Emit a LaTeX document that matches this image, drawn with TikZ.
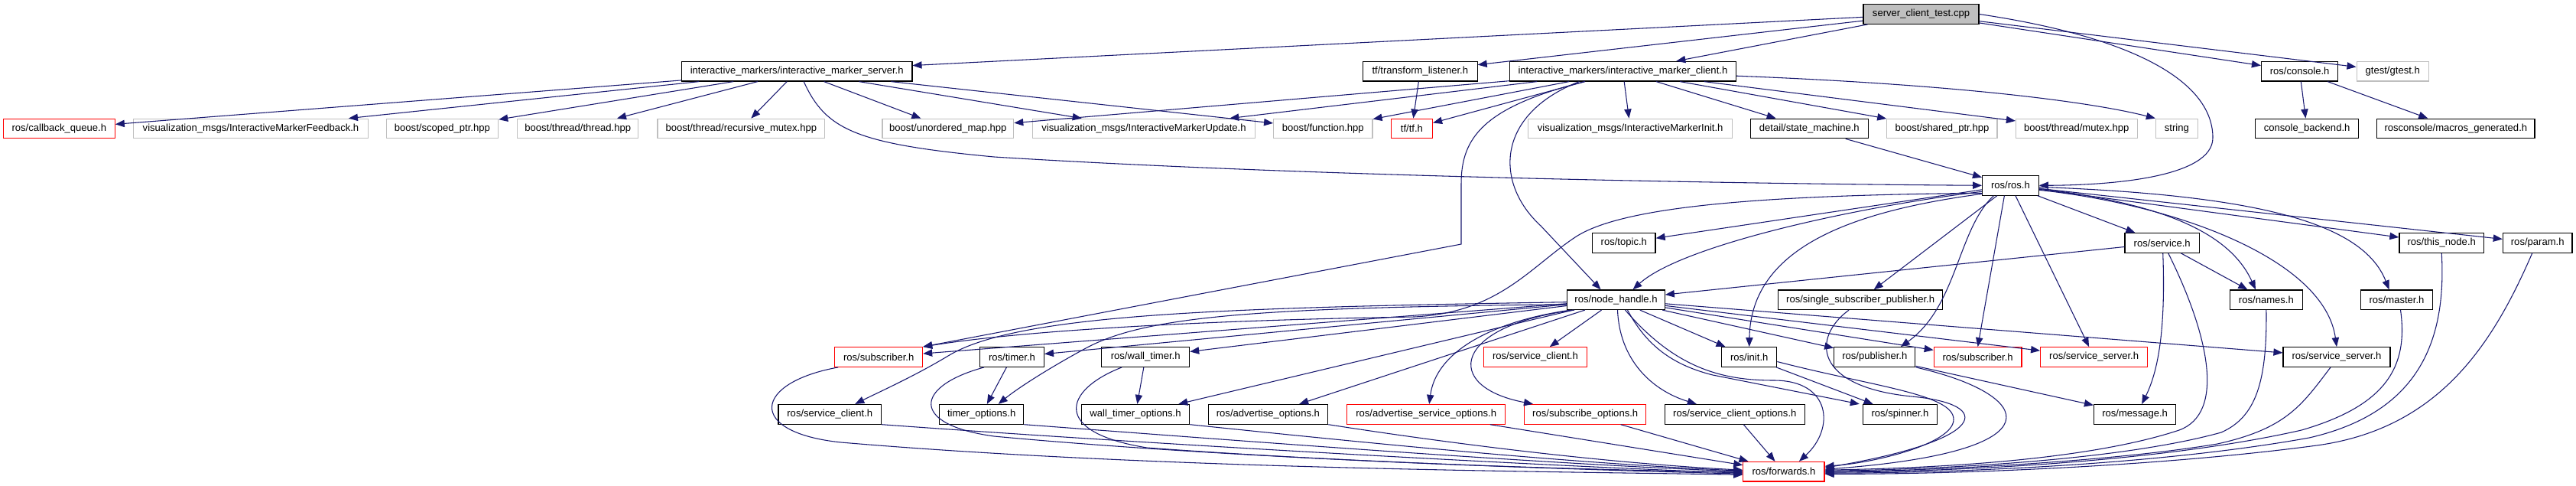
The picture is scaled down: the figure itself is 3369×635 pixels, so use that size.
\documentclass[tikz,border=0pt]{standalone}
\usepackage{fontspec}
\setmainfont{Liberation Sans}
\usetikzlibrary{arrows.meta,calc}
\definecolor{edgeblue}{HTML}{191970}
\definecolor{boxgray}{HTML}{BFBFBF}
\tikzset{
  box/.style={rectangle, draw, line width=0.9pt, minimum height=19.2pt, inner sep=0pt,
    font=\fontsize{9.8pt}{11pt}\selectfont, text=black},
  nb/.style={box, draw=black},
  ng/.style={box, draw=boxgray},
  nr/.style={box, draw=red},
  nroot/.style={box, draw=black, fill=boxgray},
  dep/.style={draw=edgeblue, line width=0.8pt, -{Triangle[length=9pt,width=7pt]}}
}
\begin{document}
\begin{tikzpicture}[x=0.75pt,y=-0.75pt]
\fill[white] (0,0) rectangle (3369,635);
\useasboundingbox (0,0) rectangle (3369,635);
% row 0
\node[nroot, minimum width=113.25pt] (root) at (2512.5,18.5) {server\_client\_test.cpp};
% row 1
\node[nb, minimum width=226.05pt] (srv) at (1042.2,93.2) {interactive\_markers/interactive\_marker\_server.h};
\node[nb, minimum width=112.2pt] (tfl) at (1857.3,93.2) {tf/transform\_listener.h};
\node[nb, minimum width=222pt] (cli) at (2122.4,93.2) {interactive\_markers/interactive\_marker\_client.h};
\node[nb, minimum width=75.15pt] (con) at (3007.6,93.2) {ros/console.h};
\node[ng, minimum width=70.7pt] (gte) at (3129.2,93.2) {gtest/gtest.h};
% row 2
\node[nr, minimum width=109.4pt] (cbq) at (77.3,168) {ros/callback\_queue.h};
\node[ng, minimum width=230.1pt] (fbk) at (328,168) {visualization\_msgs/InteractiveMarkerFeedback.h};
\node[ng, minimum width=109.8pt] (scp) at (578.4,168) {boost/scoped\_ptr.hpp};
\node[ng, minimum width=118.7pt] (thr) at (755.7,168) {boost/thread/thread.hpp};
\node[ng, minimum width=163.9pt] (rmx) at (969.3,168) {boost/thread/recursive\_mutex.hpp};
\node[ng, minimum width=128.85pt] (umap) at (1239.8,168) {boost/unordered\_map.hpp};
\node[ng, minimum width=217.9pt] (upd) at (1496,168) {visualization\_msgs/InteractiveMarkerUpdate.h};
\node[ng, minimum width=97pt] (fun) at (1730.3,168) {boost/function.hpp};
\node[nr, minimum width=40.65pt] (tf) at (1846.4,168) {tf/tf.h};
\node[ng, minimum width=200pt] (ini) at (2132.2,168) {visualization\_msgs/InteractiveMarkerInit.h};
\node[nb, minimum width=115.5pt] (stm) at (2366.3,168) {detail/state\_machine.h};
\node[ng, minimum width=108.2pt] (shp) at (2539.9,168) {boost/shared\_ptr.hpp};
\node[ng, minimum width=119pt] (mtx) at (2715.8,168) {boost/thread/mutex.hpp};
\node[ng, minimum width=41pt] (str) at (2846.8,168) {string};
\node[nb, minimum width=101.55pt] (cbk) at (3017.1,168) {console\_backend.h};
\node[nb, minimum width=154.7pt] (mac) at (3211.8,168) {rosconsole/macros\_generated.h};
% row 3
\node[nb, minimum width=55.2pt] (ros) at (2629.4,242.3) {ros/ros.h};
% row 4
\node[nb, minimum width=61.9pt] (top) at (2123.8,317.4) {ros/topic.h};
\node[nb, minimum width=73pt] (svc) at (2827.7,317.4) {ros/service.h};
\node[nb, minimum width=82.9pt] (thn) at (3193.2,317.4) {ros/this\_node.h};
\node[nb, minimum width=68pt] (par) at (3318.7,317.4) {ros/param.h};
% row 5
\node[nb, minimum width=95.6pt] (nh) at (2113.5,391.7) {ros/node\_handle.h};
\node[nb, minimum width=161.1pt] (ssp) at (2433.1,391.7) {ros/single\_subscriber\_publisher.h};
\node[nb, minimum width=70.95pt] (nam) at (2963.9,391.7) {ros/names.h};
\node[nb, minimum width=70.95pt] (mas) at (3134.5,391.7) {ros/master.h};
% row 6
\node[nr, minimum width=86.1pt] (subL) at (1149.2,466.5) {ros/subscriber.h};
\node[nb, minimum width=62.8pt] (tim) at (1323.5,466.5) {ros/timer.h};
\node[nb, minimum width=86.1pt] (wtim) at (1498.2,466.5) {ros/wall\_timer.h};
\node[nr, minimum width=101pt] (scR) at (2007.9,466.5) {ros/service\_client.h};
\node[nb, minimum width=54pt] (init) at (2287.7,466.5) {ros/init.h};
\node[nb, minimum width=79.6pt] (pub) at (2451.8,466.5) {ros/publisher.h};
\node[nr, minimum width=86pt] (subR) at (2586.6,466.5) {ros/subscriber.h};
\node[nr, minimum width=104.9pt] (ssR) at (2738.6,466.5) {ros/service\_server.h};
\node[nb, minimum width=105pt] (ssB) at (3056,466.5) {ros/service\_server.h};
% row 7
\node[nb, minimum width=101pt] (scB) at (1085.3,541.3) {ros/service\_client.h};
\node[nb, minimum width=82.65pt] (tmo) at (1283.7,541.3) {timer\_options.h};
\node[nb, minimum width=106pt] (wto) at (1485,541.3) {wall\_timer\_options.h};
\node[nb, minimum width=117.45pt] (ado) at (1658.4,541.3) {ros/advertise\_options.h};
\node[nr, minimum width=155.2pt] (aso) at (1865.2,541.3) {ros/advertise\_service\_options.h};
\node[nr, minimum width=119.4pt] (sbo) at (2073.2,541.3) {ros/subscribe\_options.h};
\node[nb, minimum width=137.4pt] (sco) at (2268.8,541.3) {ros/service\_client\_options.h};
\node[nb, minimum width=72.75pt] (spn) at (2484.9,541.3) {ros/spinner.h};
\node[nb, minimum width=80.4pt] (msg) at (2792.1,541.3) {ros/message.h};
% row 8
\node[nr, minimum width=79.6pt] (fwd) at (2332.9,616.2) {ros/forwards.h};

% ---- edges from root
\draw[dep] (root) -- (srv);
\draw[dep] (root) -- (tfl);
\draw[dep] (root) -- (cli);
\draw[dep] (root.east) .. controls (2800,50) and (2894,110) .. (2894,180) .. controls (2894,232) and (2760,242) .. (ros.east);
\draw[dep] (root) -- (con);
\draw[dep] (root) -- (gte);
% ---- server
\draw[dep] (srv) -- (cbq);
\draw[dep] (srv) -- (fbk);
\draw[dep] (srv) -- (scp);
\draw[dep] (srv) -- (thr);
\draw[dep] (srv) -- (rmx);
\draw[dep] (srv) -- (umap);
\draw[dep] (srv) -- (upd);
\draw[dep] (srv) -- (fun);
\draw[dep] ($(srv.south)+(9,0)$) .. controls (1080,170) and (1120,188) .. (1300,205) .. controls (1700,230) and (2250,240) .. (ros.west);
% ---- transform listener
\draw[dep] (tfl) -- (tf);
% ---- client
\draw[dep] (cli) -- (umap);
\draw[dep] (cli) -- (upd);
\draw[dep] (cli) -- (fun);
\draw[dep] (cli) -- (tf);
\draw[dep] (cli) -- (ini);
\draw[dep] (cli) -- (stm);
\draw[dep] (cli) -- (shp);
\draw[dep] (cli) -- (mtx);
\draw[dep] ($(cli.east)+(0,6)$) .. controls (2550,110) and (2730,132) .. (str.north west);
\draw[dep] ($(cli.south)+(-57,0)$) .. controls (1955,150) and (1955,240) .. (2015,295) -- ($(nh.north)+(-20,0)$);
\draw[dep] ($(cli.south)+(-50,0)$) .. controls (1940,140) and (1911,180) .. (1911,240) -- (1911,319) -- (subL.north east);
% ---- state machine, console
\draw[dep] (stm) -- (ros);
\draw[dep] (con) -- (cbk);
\draw[dep] (con) -- (mac);
% ---- ros.h
\draw[dep] (ros) -- (top);
\draw[dep] ($(ros.west)+(0,8)$) .. controls (2430,270) and (2200,320) .. ($(nh.north)+(22,0)$);
\draw[dep] ($(ros.west)+(0,11)$) .. controls (2430,275) and (2290,320) .. (init.north);
\draw[dep] (ros) -- (ssp);
\draw[dep] ($(ros.south)+(-22,0)$) .. controls (2560,300) and (2560,400) .. ($(pub.north)+(34,0)$);
\draw[dep] ($(ros.south)+(-8,0)$) -- (subR.north);
\draw[dep] (ros) -- (ssR);
\draw[dep] (ros) -- (svc);
\draw[dep] ($(ros.east)+(0,4)$) .. controls (2790,262) and (2910,290) .. ($(nam.north)+(-14,0)$);
\draw[dep] ($(ros.east)+(0,6)$) .. controls (2850,268) and (3040,340) .. (ssB.north);
\draw[dep] ($(ros.east)+(0,2)$) .. controls (2950,255) and (3090,290) .. ($(mas.north)+(-10,0)$);
\draw[dep] (ros) -- (thn);
\draw[dep] (ros) -- (par);
\draw[dep] ($(ros.west)+(0,10)$) .. controls (2300,255) and (2120,270) .. (2060,310) .. controls (2000,350) and (1960,408) .. (1850,414) .. controls (1600,418) and (1350,430) .. (subL.north east);
% ---- node_handle
\draw[dep] (nh) -- (subL);
\draw[dep] (nh) -- (tim);
\draw[dep] (nh) -- (wtim);
\draw[dep] ($(nh.west)+(0,3)$) .. controls (1600,402) and (1330,410) .. (1240,465) .. controls (1195,492) and (1150,512) .. ($(scB.north)+(33,0)$);
\draw[dep] ($(nh.west)+(0,6)$) .. controls (1650,402) and (1500,412) .. (1420,455) .. controls (1370,482) and (1330,508) .. ($(tmo.north)+(22,0)$);
\draw[dep] (nh) -- (wto);
\draw[dep] (nh) -- (ado);
\draw[dep] ($(nh.south west)+(5,0)$) .. controls (1950,420) and (1878,460) .. ($(aso.north)+(4,0)$);
\draw[dep] ($(nh.south west)+(10,0)$) .. controls (1900,425) and (1885,505) .. ($(sbo.north west)+(12,0)$);
\draw[dep] (nh) -- (scR);
\draw[dep] ($(nh.south)+(2,0)$) .. controls (2118,470) and (2160,510) .. ($(sco.north)+(-50,0)$);
\draw[dep] ($(nh.south)+(12,0)$) .. controls (2190,480) and (2250,497) .. (2320,497) .. controls (2395,497) and (2400,560) .. ($(fwd.north)+(20,0)$);
\draw[dep] ($(nh.south)+(15,0)$) .. controls (2150,445) and (2180,475) .. (2240,490) -- ($(spn.north west)+(-4,0)$);
\draw[dep] (nh) -- (init);
\draw[dep] (nh) -- (pub);
\draw[dep] (nh) -- (subR);
\draw[dep] (nh) -- (ssR);
\draw[dep] (nh) -- (ssB);
% ---- service.h
\draw[dep] (svc) -- (nh);
\draw[dep] (svc) -- (nam);
\draw[dep] ($(svc.south)+(1,0)$) .. controls (2832,420) and (2825,480) .. ($(msg.north)+(9,0)$);
\draw[dep] ($(svc.south)+(8,0)$) .. controls (2890,440) and (2910,540) .. (2850,562) .. controls (2720,605) and (2500,612) .. ($(fwd.east)+(0,-2)$);
% ---- others to forwards
\draw[dep] (nam.south) .. controls (2965,500) and (2950,545) .. (2905,565) .. controls (2760,605) and (2500,614) .. ($(fwd.east)+(0,-1)$);
\draw[dep] ($(ssB.south)+(-8,0)$) .. controls (3010,530) and (2990,560) .. (2900,580) .. controls (2750,605) and (2500,616) .. (fwd.east);
\draw[dep] ($(mas.south)+(5,0)$) .. controls (3150,480) and (3120,530) .. (3010,562) .. controls (2820,605) and (2550,616) .. ($(fwd.east)+(0,1)$);
\draw[dep] (thn.south) .. controls (3200,450) and (3160,540) .. (3020,572) .. controls (2820,608) and (2550,618) .. ($(fwd.east)+(0,2)$);
\draw[dep] ($(par.south)+(-7,0)$) .. controls (3260,450) and (3190,560) .. (3030,582) .. controls (2820,610) and (2550,620) .. ($(fwd.east)+(0,3)$);
\draw[dep] (pub.south east) .. controls (2660,515) and (2700,590) .. ($(fwd.east)+(0,-3)$);
\draw[dep] (pub) -- (msg);
\draw[dep] ($(ssp.south)+(-15,0)$) .. controls (2370,440) and (2370,505) .. (2500,518) .. controls (2610,528) and (2600,575) .. ($(fwd.east)+(0,-5)$);
\draw[dep] ($(init.east)+(0,6)$) .. controls (2450,505) and (2555,515) .. (2555,548) .. controls (2555,580) and (2450,605) .. ($(fwd.east)+(0,-7)$);
\draw[dep] (init) -- (spn);
\draw[dep] (sco) -- (fwd);
% ---- left side into forwards
\draw[dep] ($(subL.south west)+(5,0)$) .. controls (985,500) and (975,565) .. (1100,578) .. controls (1500,612) and (2000,616) .. ($(fwd.west)+(0,4)$);
\draw[dep] (scB.south east) .. controls (1500,580) and (2000,608) .. ($(fwd.west)+(0,2)$);
\draw[dep] ($(tim.south west)+(6,0)$) .. controls (1195,505) and (1190,555) .. (1300,570) .. controls (1600,598) and (2000,612) .. ($(fwd.west)+(0,3)$);
\draw[dep] (tmo.south east) .. controls (1650,578) and (2000,605) .. (fwd.west);
\draw[dep] ($(wtim.south west)+(27,0)$) .. controls (1390,510) and (1375,565) .. (1500,585) .. controls (1800,607) and (2100,614) .. ($(fwd.west)+(0,1)$);
\draw[dep] (wto.south east) .. controls (1800,580) and (2050,605) .. ($(fwd.west)+(0,-1)$);
\draw[dep] (ado.south east) .. controls (1900,580) and (2100,605) .. ($(fwd.west)+(0,-2)$);
\draw[dep] (aso) -- (fwd);
\draw[dep] (sbo) -- (fwd);
\draw[dep] (tim) -- (tmo);
\draw[dep] (wtim) -- (wto);
\end{tikzpicture}
\end{document}
